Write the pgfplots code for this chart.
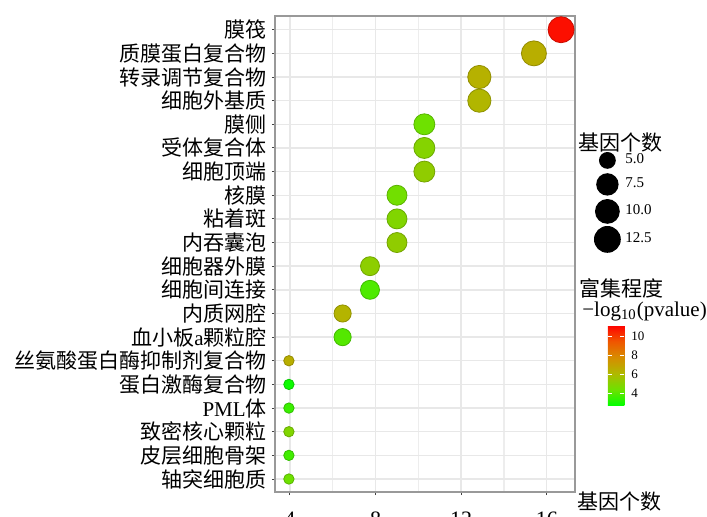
\documentclass[border=0pt]{standalone}
\usepackage{fontspec}
\setmainfont{Liberation Serif}
\newfontfamily\cjk{Noto Sans CJK SC}
\usepackage{pgfplots}
\usepackage{pgfplotstable}
\pgfplotsset{compat=1.18}

\pgfplotstableread{
y x r m
1 16.67 6.5 10.9
2 15.40 6.25 6.5
3 12.85 5.8 6.4
4 12.85 5.8 6.2
5 10.28 5.25 4.4
6 10.28 5.25 5.0
7 10.28 5.25 5.3
8 9.00 5.0 4.5
9 9.00 5.0 4.9
10 9.00 5.0 5.3
11 7.74 4.75 5.2
12 7.74 4.75 3.9
13 6.46 4.3 6.3
14 6.46 4.3 4.0
15 3.95 2.6 6.5
16 3.95 2.6 2.9
17 3.95 2.6 3.6
18 3.95 2.6 4.9
19 3.95 2.6 3.7
20 3.95 2.6 4.4
}\datatab

\begin{document}
\begin{tikzpicture}
\path[use as bounding box] (-137.5pt,-12pt) rectangle (216pt,246pt);
\begin{axis}[
  at={(0pt,0pt)}, anchor=south west,
  scale only axis, width=150pt, height=238pt,
  xmin=3.30, xmax=17.32, ymin=0.42, ymax=20.55, y dir=reverse,
  xtick={4,8,12,16}, minor xtick={6,10,14},
  ytick={1,...,20},
  yticklabels={膜筏,质膜蛋白复合物,转录调节复合物,细胞外基质,膜侧,受体复合体,细胞顶端,核膜,粘着斑,内吞囊泡,细胞器外膜,细胞间连接,内质网腔,血小板{\rmfamily a}颗粒腔,丝氨酸蛋白酶抑制剂复合物,蛋白激酶复合物,{\rmfamily PML}体,致密核心颗粒,皮层细胞骨架,轴突细胞质},
  yticklabel style={font=\cjk\fontsize{10.5}{12}\selectfont, xshift=1pt},
  xticklabel style={font=\fontsize{11}{12}\selectfont, yshift=-5pt},
  /pgf/number format/assume math mode=true,
  grid=both,
  major grid style={black!9, line width=0.7pt},
  minor grid style={black!7, line width=0.7pt},
  axis line style={black!40, line width=0.7pt},
  tick align=outside, tick pos=left,
  major tick length=1.6pt, minor tick length=0pt,
  tick style={black!75, line width=0.5pt},
  point meta min=2.7, point meta max=11.2,
  colormap={gr}{rgb255(0)=(0,255,0) rgb255(1)=(110,225,0) rgb255(2)=(175,185,0) rgb255(3)=(215,140,0) rgb255(4)=(240,85,0) rgb255(5)=(255,0,0)},
  colorbar,
  colorbar style={
    at={(parent axis.south west)}, anchor=south west,
    xshift=157.85pt, yshift=43.15pt,
    scale only axis, width=8.3pt, height=40.35pt,
    ytick={4,6,8,10},
    yticklabel style={font=\fontsize{6.5}{7}\selectfont},
    /pgf/number format/assume math mode=true,
    axis line style={draw=none},
    tick style={white, line width=0.6pt},
    major tick length=2pt, tick align=inside,
  },
  legend style={draw=none, fill=none, at={(1.06,0.7206)}, anchor=north west,
    font=\fontsize{7.5}{9}\selectfont, row sep=0pt, inner sep=0pt,
    cells={anchor=west}},
  legend cell align=left,
]
\addplot[scatter, only marks, mark=*, forget plot, point meta=explicit,
  visualization depends on={\thisrow{r} \as \rad},
  scatter/@pre marker code/.append style={/tikz/mark size=\rad pt}]
  table[x=x, y=y, meta=m] {\datatab};
\addlegendimage{legend image code/.code={\path[draw=none,fill=none] (-7pt,-5.5pt) rectangle (7pt,5.5pt); \fill[black,draw=none] (0pt,0pt) circle (4.2pt);}}
\addlegendentry{5.0}
\addlegendimage{legend image code/.code={\path[draw=none,fill=none] (-7pt,-6.5pt) rectangle (7pt,6.5pt); \fill[black,draw=none] (0pt,0pt) circle (5.6pt);}}
\addlegendentry{7.5}
\addlegendimage{legend image code/.code={\path[draw=none,fill=none] (-7pt,-7pt) rectangle (7pt,7pt); \fill[black,draw=none] (0pt,0pt) circle (6.2pt);}}
\addlegendentry{10.0}
\addlegendimage{legend image code/.code={\path[draw=none,fill=none] (-7pt,-7pt) rectangle (7pt,7pt); \fill[black,draw=none] (0pt,0pt) circle (6.7pt);}}
\addlegendentry{12.5}
\end{axis}
\node[anchor=west, inner sep=0pt, font=\cjk\fontsize{10.5}{12}\selectfont] at (151.5pt,174.5pt) {基因个数};
\node[anchor=west, inner sep=0pt, font=\cjk\fontsize{10.5}{12}\selectfont] at (152pt,102pt) {富集程度};
\node[anchor=west, inner sep=0pt, font=\fontsize{10.5}{12}\selectfont] at (153.5pt,90.5pt) {−log\textsubscript{10}(pvalue)};
\node[anchor=west, inner sep=0pt, font=\cjk\fontsize{10.5}{12}\selectfont] at (151pt,-5pt) {基因个数};
\end{tikzpicture}
\end{document}
